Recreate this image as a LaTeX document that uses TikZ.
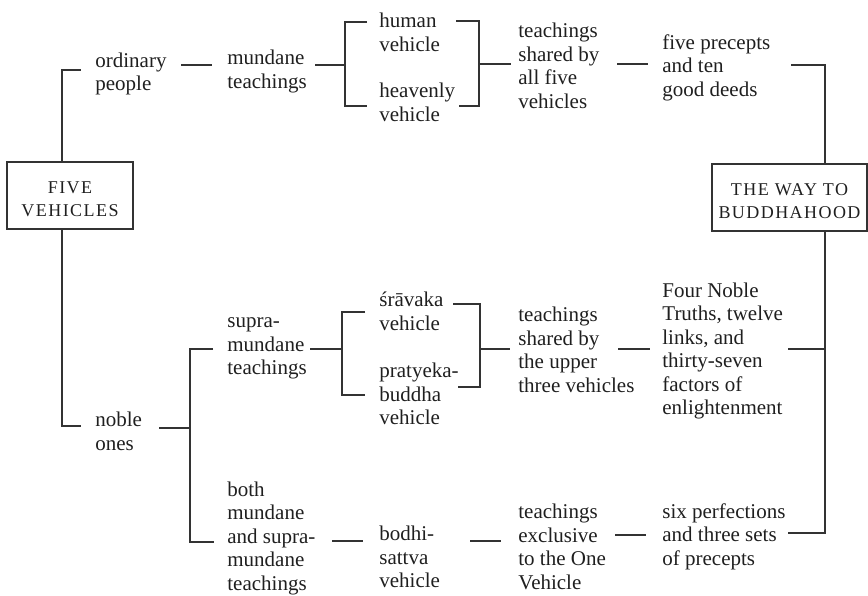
\documentclass[tikz,border=0pt]{standalone}
\usepackage{fontspec}
\setmainfont{Liberation Serif}
\newfontfamily\capsfont[LetterSpace=8]{Liberation Serif}
\newcommand\boxline[1]{\raisebox{-1.8pt}[\height][\depth]{#1}}

\tikzset{
  lbl/.style={anchor=west, align=left, inner sep=0pt, text=black!88, yshift=-2pt,
    font=\fontsize{10.5}{11.75}\selectfont,
    execute at begin node=\strut, execute at end node=\strut},
  titlebox/.style={draw=black!80, line width=0.6pt, minimum height=33.5pt,
    align=center, inner sep=0pt, text=black!88,
    font=\capsfont\fontsize{9}{11.5}\selectfont},
  link/.style={draw=black!80, line width=0.6pt},
}

\begin{document}
\begin{tikzpicture}[x=0.5pt, y=-0.5pt]
    \useasboundingbox (0,0) rectangle (868,595);

    % the two boxes
    \node[titlebox, minimum width=63pt] (five) at (70,195.5) {\boxline{FIVE}\\\boxline{VEHICLES}};
    \node[titlebox, minimum width=77.5pt] (way) at (789.5,197.5) {\boxline{THE WAY TO}\\\boxline{BUDDHAHOOD}};

    % upper row
    \node[lbl] (ord) at (95,71) {ordinary\\people};
    \node[lbl] (mun) at (227,68.5) {mundane\\teachings};
    \node[lbl] (hum) at (379,31.5) {human\\vehicle};
    \node[lbl] (hea) at (379,101.5) {heavenly\\vehicle};
    \node[lbl] (allfive) at (518,65) {teachings\\shared by\\all five\\vehicles};
    \node[lbl] (prec) at (662,65) {five precepts\\and ten\\good deeds};

    % lower rows
    \node[lbl] (nob) at (95,430.5) {noble\\ones};
    \node[lbl] (sup) at (227,346) {supra-\\mundane\\teachings};
    \node[lbl] (sra) at (379,310.5) {śrāvaka\\vehicle};
    \node[lbl] (pra) at (379,393.5) {pratyeka-\\buddha\\vehicle};
    \node[lbl] (upper) at (518,349) {teachings\\shared by\\the upper\\three vehicles};
    \node[lbl] (truths) at (662,348) {Four Noble\\Truths, twelve\\links, and\\thirty-seven\\factors of\\enlightenment};
    \node[lbl] (both) at (227,535.5) {both\\mundane\\and supra-\\mundane\\teachings};
    \node[lbl] (bod) at (379,556.5) {bodhi-\\sattva\\vehicle};
    \node[lbl] (excl) at (518,546) {teachings\\exclusive\\to the One\\Vehicle};
    \node[lbl] (six) at (662,534) {six perfections\\and three sets\\of precepts};

    % junctions
    \coordinate (ordJ) at (62,70);
    \coordinate (nobJ) at (62,426);
    \coordinate (mbT) at (345,22);
    \coordinate (mbM) at (345,65);
    \coordinate (mbB) at (345,106);
    \coordinate (hbT) at (479,21);
    \coordinate (hbM) at (479,64);
    \coordinate (hbB) at (479,106);
    \coordinate (wayT) at (825,65);
    \coordinate (wayM) at (825,349);
    \coordinate (wayB) at (825,533);
    \coordinate (nbT) at (190,349);
    \coordinate (nbM) at (190,428);
    \coordinate (nbB) at (190,542);
    \coordinate (sbT) at (342,312);
    \coordinate (sbM) at (342,349);
    \coordinate (sbB) at (342,395);
    \coordinate (pbT) at (480,304);
    \coordinate (pbM) at (480,349);
    \coordinate (pbB) at (480,387);
    \coordinate (botA) at (0,541);
    \coordinate (botB) at (0,535);

    % five vehicles to its two branches
    \draw[link] (five.north -| ordJ) -- (ordJ) -- ([xshift=-7pt]ord.west |- ordJ);
    \draw[link] (five.south -| nobJ) -- (nobJ) -- ([xshift=-7pt]nob.west |- nobJ);

    % upper row
    \draw[link] ([xshift=-23pt]mun.west |- mbM) -- ([xshift=-7.5pt]mun.west |- mbM);
    \draw[link] ([xshift=4pt]mun.east |- mbM) -- (mbM);
    \draw[link] ([xshift=-6pt]hum.west |- mbT) -- (mbT) -- (mbB) -- ([xshift=-6pt]hea.west |- mbB);
    \draw[link] ([xshift=-11.5pt]hbT) -- (hbT) -- (hbB) -- ([xshift=-10pt]hbB);
    \draw[link] (hbM) -- ([xshift=-3.5pt]allfive.west |- hbM);
    \draw[link] ([xshift=-22.5pt]prec.west |- hbM) -- ([xshift=-7pt]prec.west |- hbM);
    \draw[link] ([xshift=-17pt]wayT) -- (wayT) -- (way.north -| wayT);

    % noble ones
    \draw[link] ([xshift=8.5pt]nob.east |- nbM) -- (nbM);
    \draw[link] ([xshift=-7pt]sup.west |- nbT) -- (nbT) -- (nbB) -- ([xshift=-6.5pt]both.west |- nbB);

    % supramundane row
    \draw[link] ([xshift=1.5pt]sup.east |- sbM) -- (sbM);
    \draw[link] ([xshift=-7pt]sra.west |- sbT) -- (sbT) -- (sbB) -- ([xshift=-7pt]pra.west |- sbB);
    \draw[link] ([xshift=-13.5pt]pbT) -- (pbT) -- (pbB) -- ([xshift=-11pt]pbB);
    \draw[link] (pbM) -- ([xshift=-4pt]upper.west |- pbM);
    \draw[link] ([xshift=-22pt]truths.west |- pbM) -- ([xshift=-6pt]truths.west |- pbM);
    \draw[link] ([xshift=-18.5pt]wayM) -- (wayM);

    % bottom row
    \draw[link] ([xshift=-23.5pt]bod.west |- botA) -- ([xshift=-8pt]bod.west |- botA);
    \draw[link] ([xshift=-24pt]excl.west |- botA) -- ([xshift=-8.5pt]excl.west |- botA);
    \draw[link] ([xshift=-23.5pt]six.west |- botB) -- ([xshift=-8pt]six.west |- botB);
    \draw[link] (way.south -| wayB) -- (wayB) -- ([xshift=-18.5pt]wayB);
\end{tikzpicture}
\end{document}
